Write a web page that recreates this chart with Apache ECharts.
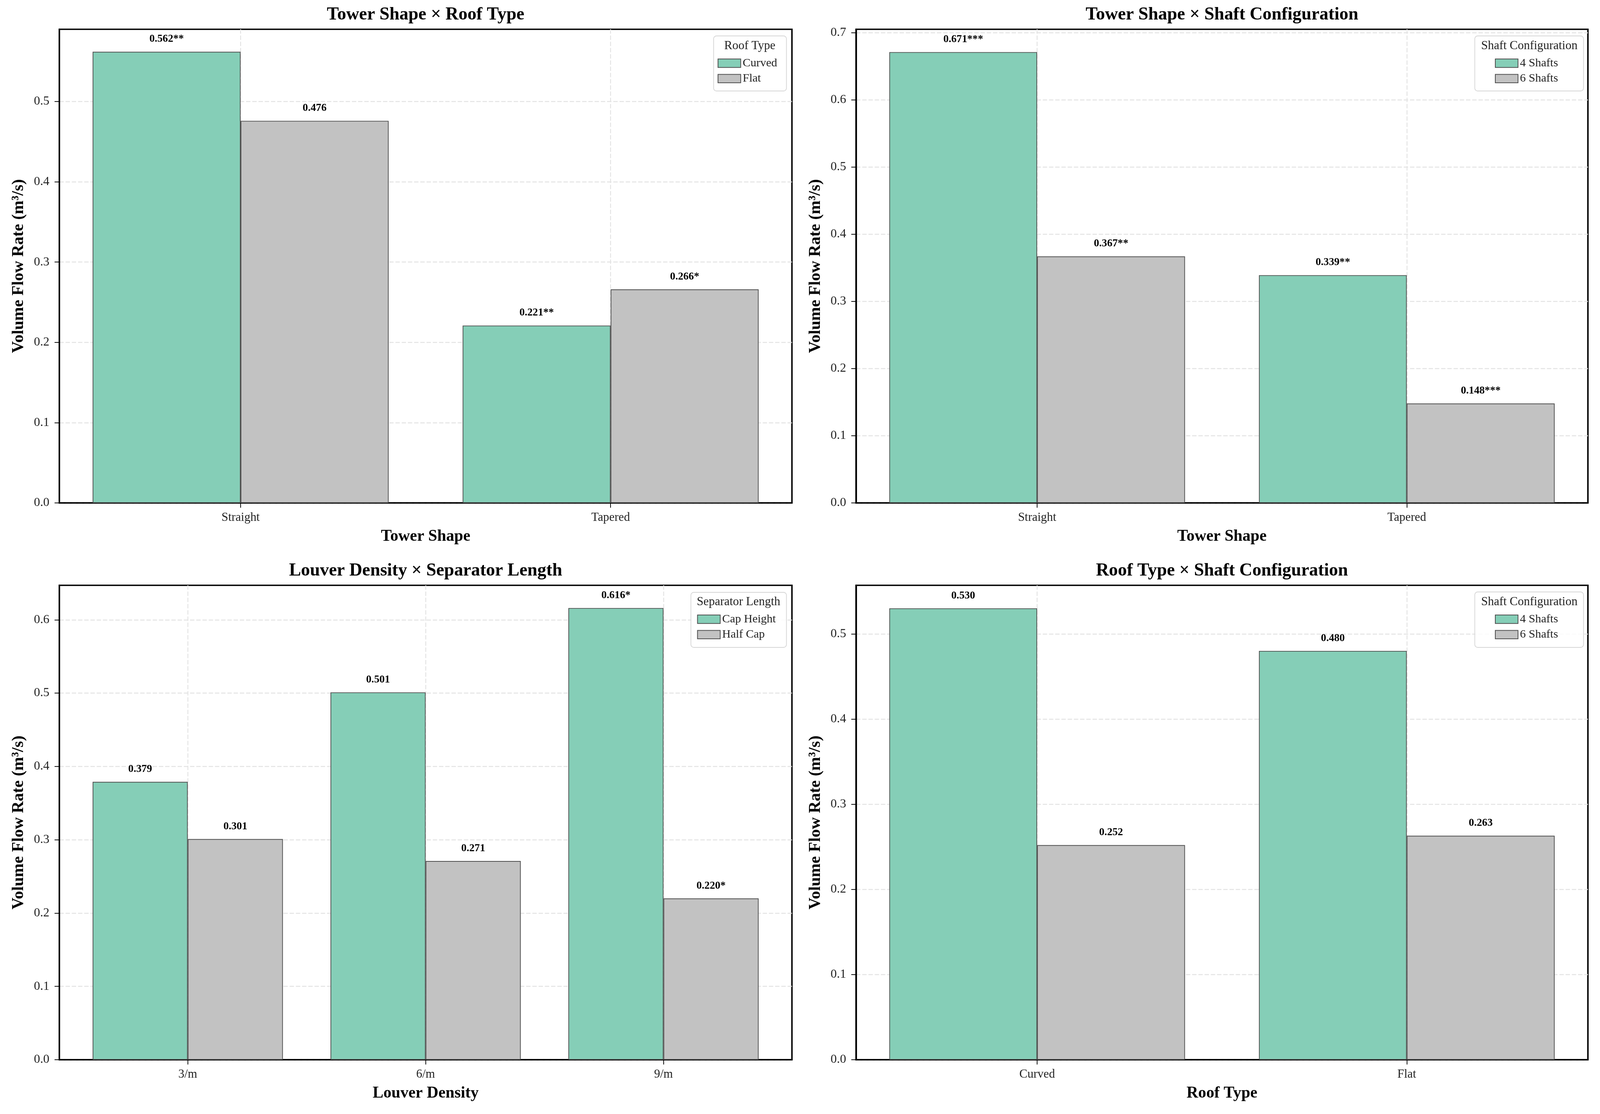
<!DOCTYPE html>
<html>
<head>
<meta charset="utf-8">
<script src="https://cdn.jsdelivr.net/npm/echarts@6/dist/echarts.min.js"></script>
<style>
html,body{margin:0;padding:0;background:#fff;overflow:hidden;}
#chart{width:100vw;height:100vh;}
</style>
</head>
<body>
<div id="chart"></div>
<script>
// ---------- data ----------
const panelTitles = ['Tower Shape \u00d7 Roof Type', 'Tower Shape \u00d7 Shaft Configuration', 'Louver Density \u00d7 Separator Length', 'Roof Type \u00d7 Shaft Configuration'];
const xAxisNames = ['Tower Shape', 'Tower Shape', 'Louver Density', 'Roof Type'];
const legendTitles = ['Roof Type', 'Shaft Configuration', 'Separator Length', 'Shaft Configuration'];
const yAxisName = 'Volume Flow Rate (m\u00b3/s)';

const towerShapes = ['Straight', 'Tapered'];
const louverDensities = ['3/m', '6/m', '9/m'];
const roofTypes = ['Curved', 'Flat'];

const roofSeriesNames = ['Curved', 'Flat'];
const curvedByShape = [0.562, 0.221];
const curvedByShapeSig = ['**', '**'];
const flatByShape = [0.476, 0.266];
const flatByShapeSig = ['', '*'];

const shaftSeriesNames = ['4 Shafts', '6 Shafts'];
const shafts4ByShape = [0.671, 0.339];
const shafts4ByShapeSig = ['***', '**'];
const shafts6ByShape = [0.367, 0.148];
const shafts6ByShapeSig = ['**', '***'];

const separatorSeriesNames = ['Cap Height', 'Half Cap'];
const capHeightByDensity = [0.379, 0.501, 0.616];
const capHeightByDensitySig = ['', '', '*'];
const halfCapByDensity = [0.301, 0.271, 0.220];
const halfCapByDensitySig = ['', '', '*'];

const shafts4ByRoof = [0.530, 0.480];
const shafts4ByRoofSig = ['', ''];
const shafts6ByRoof = [0.252, 0.263];
const shafts6ByRoofSig = ['', ''];

const yTicksTL = [0.0, 0.1, 0.2, 0.3, 0.4, 0.5];
const yTicksTR = [0.0, 0.1, 0.2, 0.3, 0.4, 0.5, 0.6, 0.7];
const yTicksBL = [0.0, 0.1, 0.2, 0.3, 0.4, 0.5, 0.6];
const yTicksBR = [0.0, 0.1, 0.2, 0.3, 0.4, 0.5];
const yMaxes = [0.590, 0.705, 0.647, 0.557];

// ---------- layout / style (designed for 4370 x 2853, scaled to the viewport) ----------
const el = document.getElementById('chart');
const VW = el.clientWidth || window.innerWidth;
const VH = el.clientHeight || window.innerHeight;
const sx = VW / 4370, sy = VH / 2853, sf = Math.min(sx, sy);
const X = v => v * sx, Y = v => v * sy, F = v => v * sf;

const SERIF = '"Liberation Serif", "Times New Roman", serif';
const COLORS = ['#85CEB7', '#C2C2C2'];
const GRIDLINE = {color: '#e3e3e3', width: F(2.5), type: [F(12), F(5)]};
const frames = [
  {left: 162, top: 75, width: 2001, height: 1213},
  {left: 2338, top: 75, width: 1999, height: 1213},
  {left: 162, top: 1499, width: 2001, height: 1215},
  {left: 2338, top: 1499, width: 1999, height: 1215}
];
const panels = [
  {cats: towerShapes, names: roofSeriesNames, vals: [curvedByShape, flatByShape], sig: [curvedByShapeSig, flatByShapeSig], ticks: yTicksTL},
  {cats: towerShapes, names: shaftSeriesNames, vals: [shafts4ByShape, shafts6ByShape], sig: [shafts4ByShapeSig, shafts6ByShapeSig], ticks: yTicksTR},
  {cats: louverDensities, names: separatorSeriesNames, vals: [capHeightByDensity, halfCapByDensity], sig: [capHeightByDensitySig, halfCapByDensitySig], ticks: yTicksBL},
  {cats: roofTypes, names: shaftSeriesNames, vals: [shafts4ByRoof, shafts6ByRoof], sig: [shafts4ByRoofSig, shafts6ByRoofSig], ticks: yTicksBR}
];
const legendBoxes = [
  {x: 1949, y: 92, w: 199, h: 141, tx: 2048, ty: 118, left: 1960, top: 145},
  {x: 4028, y: 92, w: 297, h: 141, tx: 4177, ty: 118, left: 4083, top: 145},
  {x: 1887, y: 1517, w: 261, h: 141, tx: 2017, ty: 1542, left: 1904, top: 1569},
  {x: 4028, y: 1516, w: 297, h: 142, tx: 4177, ty: 1542, left: 4083, top: 1569}
];

const option = {
  backgroundColor: '#ffffff',
  animation: false,
  title: [], grid: [], xAxis: [], yAxis: [], legend: [], series: [], graphic: []
};

// outer frames: border, y axis, x axis line, axis names
panels.forEach((p, i) => {
  const g = frames[i];
  option.grid.push({show: true, borderColor: '#000', borderWidth: F(4), backgroundColor: 'transparent',
    left: X(g.left), top: Y(g.top), width: X(g.width), height: Y(g.height)});
  option.title.push({
    text: panelTitles[i],
    left: X(g.left + g.width / 2),
    top: Y(g.top - 60),
    textAlign: 'center',
    padding: 0,
    textStyle: {fontFamily: SERIF, fontWeight: 'bold', fontSize: F(49), color: '#000'}
  });
  option.xAxis.push({
    type: 'category', gridIndex: i, data: p.cats,
    name: xAxisNames[i], nameLocation: 'middle', nameGap: Y(66),
    nameTextStyle: {fontFamily: SERIF, fontWeight: 'bold', fontSize: F(44), color: '#000'},
    axisLine: {show: true, lineStyle: {color: '#000', width: F(4)}},
    axisTick: {show: false}, axisLabel: {show: false}, splitLine: {show: false}
  });
  option.yAxis.push({
    type: 'value', gridIndex: i, min: 0, max: yMaxes[i], interval: 0.1,
    name: yAxisName, nameLocation: 'middle', nameGap: X(88),
    nameTextStyle: {fontFamily: SERIF, fontWeight: 'bold', fontSize: F(45), color: '#000'},
    axisLine: {show: true, lineStyle: {color: '#000', width: F(4)}},
    axisTick: {show: true, length: F(13), lineStyle: {color: '#000', width: F(2)}, customValues: p.ticks},
    axisLabel: {fontFamily: SERIF, fontSize: F(34), color: '#222', margin: F(27), customValues: p.ticks,
      formatter: v => Number(v).toFixed(1)},
    splitLine: {show: true, lineStyle: GRIDLINE}
  });
});

// inner plotting grids: category spacing as matplotlib (xlim = bars extent + 5% margins)
panels.forEach((p, i) => {
  const g = frames[i];
  const n = p.cats.length;
  const unit = g.width / ((n - 0.2) * 1.1);
  const innerW = unit * n;
  const pad = (g.width - innerW) / 2;
  option.grid.push({show: false,
    left: X(g.left + pad), top: Y(g.top), width: X(innerW), height: Y(g.height)});
  option.xAxis.push({
    type: 'category', gridIndex: 4 + i, data: p.cats,
    axisLine: {show: false},
    axisTick: {show: true, alignWithLabel: true, length: F(13), lineStyle: {color: '#000', width: F(2)}},
    axisLabel: {fontFamily: SERIF, fontSize: F(33), color: '#222', margin: F(24)},
    splitLine: {show: true, alignWithLabel: true, lineStyle: GRIDLINE}
  });
  option.yAxis.push({
    type: 'value', gridIndex: 4 + i, min: 0, max: yMaxes[i], interval: 0.1,
    axisLine: {show: false}, axisTick: {show: false}, axisLabel: {show: false}, splitLine: {show: false}
  });
  const lb = legendBoxes[i];
  option.legend.push({
    data: p.names, orient: 'vertical',
    left: X(lb.left), top: Y(lb.top), padding: 0,
    itemWidth: F(62), itemHeight: F(23), itemGap: F(6), itemTextGap: F(25),
    icon: 'rect', selectedMode: false,
    textStyle: {fontFamily: SERIF, fontSize: F(32), lineHeight: F(36), color: '#222'},
    z: 6
  });
  option.graphic.push({
    type: 'rect', z: 5, silent: true,
    shape: {x: X(lb.x), y: Y(lb.y), width: X(lb.w), height: Y(lb.h), r: F(8)},
    style: {fill: 'rgba(255,255,255,0.85)', stroke: '#d6d6d6', lineWidth: F(2)}
  });
  option.graphic.push({
    type: 'text', z: 7, silent: true,
    x: X(lb.tx), y: Y(lb.ty),
    style: {text: legendTitles[i], font: F(33) + 'px ' + SERIF, fill: '#222', textAlign: 'center', textVerticalAlign: 'middle'}
  });
  p.names.forEach((nm, k) => {
    const sig = p.sig[k];
    option.series.push({
      type: 'bar', name: nm,
      xAxisIndex: 4 + i, yAxisIndex: 4 + i,
      data: p.vals[k],
      barGap: '0%', barCategoryGap: '20%',
      itemStyle: {color: COLORS[k], borderColor: '#505050', borderWidth: F(2)},
      label: {
        show: true, position: 'top', distance: F(20),
        fontFamily: SERIF, fontWeight: 'bold', fontSize: F(29), color: '#000',
        formatter: prm => Number(prm.value).toFixed(3) + sig[prm.dataIndex]
      }
    });
  });
});

const chart = echarts.init(el, null, {renderer: 'canvas'});
chart.setOption(option);
</script>
</body>
</html>
